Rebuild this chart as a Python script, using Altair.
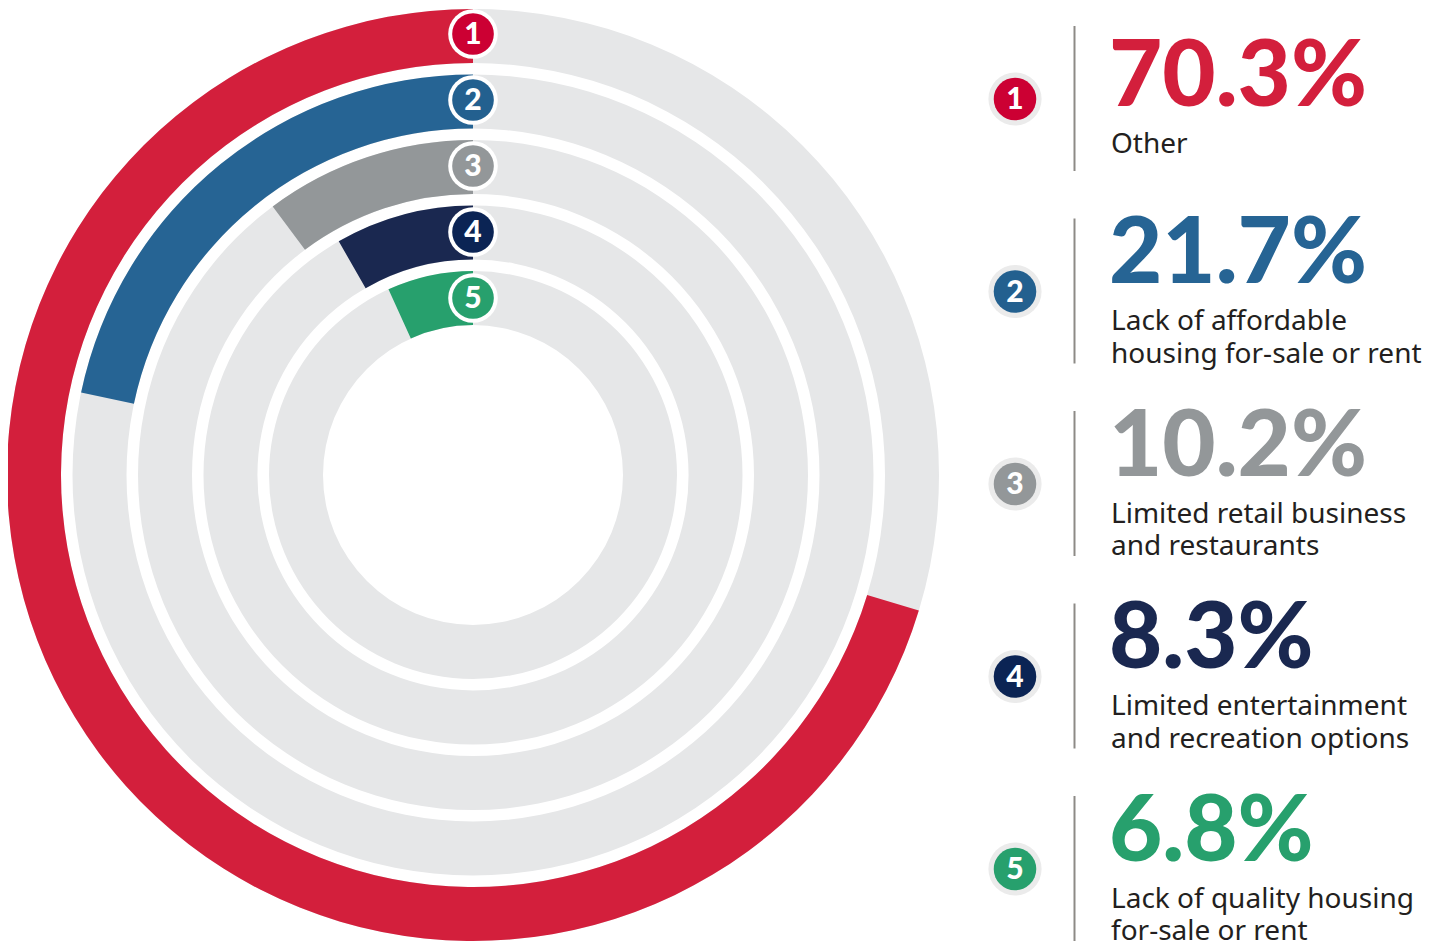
import altair as alt
import pandas as pd

# ---- data ----
ranks = [1, 2, 3, 4, 5]
percents = [70.3, 21.7, 10.2, 8.3, 6.8]
labels = [
    "Other",
    "Lack of affordable\nhousing for-sale or rent",
    "Limited retail business\nand restaurants",
    "Limited entertainment\nand recreation options",
    "Lack of quality housing\nfor-sale or rent",
]

# ---- styles ----
ring_colors = ["#d31f3c", "#266494", "#939799", "#1a2850", "#27a06d"]
badge_colors = ["#cc0033", "#23608f", "#939799", "#0b2454", "#27a06d"]
track_color = "#e6e7e8"
text_color = "#231f20"

df = pd.DataFrame({"rank": ranks, "pct": percents, "label": labels})

CX, CY = 465, 467
base = alt.Chart(df).transform_calculate(
    start="100 - datum.pct",
    end="100",
    rin="datum.rank + 54/65.5",
    pct_s="format(datum.pct, '.1f') + '%'",
    lines="split(datum.label, '\\n')",
    num="'' + datum.rank",
).transform_calculate(
    nl="length(datum.lines)",
).transform_calculate(
    ty="datum.rank + (datum.nl == 1 ? 15.5/192.5 : 0)",
    rt="datum.rank - 73/192.5",
    rb="datum.rank + 72/192.5",
)

r_scale = alt.Scale(type="linear", domain=[1, 5], range=[466, 204], zero=False, nice=False)
t_scale = alt.Scale(domain=[0, 100], range=[0, 6.283185307179586])
ring_y = alt.Scale(domain=[1, 5], range=[26, 290], zero=False, nice=False)
leg_y = alt.Scale(domain=[1, 5], range=[91, 861], zero=False, nice=False)

ring_col = alt.Color("rank:N", scale=alt.Scale(domain=ranks, range=ring_colors), legend=None)
badge_col = alt.Color("rank:N", scale=alt.Scale(domain=ranks, range=badge_colors), legend=None)

tracks = base.mark_arc(theta=0, theta2=6.283185307179586, color=track_color).encode(
    x=alt.value(CX), y=alt.value(CY),
    radius=alt.Radius("rank:Q", scale=r_scale),
    radius2="rin:Q",
)

bars = base.mark_arc().encode(
    x=alt.value(CX), y=alt.value(CY),
    theta=alt.Theta("start:Q", scale=t_scale),
    theta2="end:Q",
    radius=alt.Radius("rank:Q", scale=r_scale),
    radius2="rin:Q",
    color=ring_col,
)

ring_badge_bg = base.mark_circle(color="white", opacity=1, size=2460).encode(
    x=alt.value(CX), y=alt.Y("rank:Q", scale=ring_y, axis=None),
)
ring_badge = base.mark_circle(opacity=1, size=1735).encode(
    x=alt.value(CX), y=alt.Y("rank:Q", scale=ring_y, axis=None),
    color=badge_col,
)
ring_num = base.mark_text(color="white", font="Lato", fontWeight=900, fontSize=30,
                          baseline="middle", align="center", dy=1).encode(
    x=alt.value(CX), y=alt.Y("rank:Q", scale=ring_y, axis=None),
    text="num:N",
)

LX = 1007
leg_halo = base.mark_circle(color="#ebebeb", opacity=1, size=2827).encode(
    x=alt.value(LX), y=alt.Y("rank:Q", scale=leg_y, axis=None),
)
leg_badge = base.mark_circle(opacity=1, size=1810).encode(
    x=alt.value(LX), y=alt.Y("rank:Q", scale=leg_y, axis=None),
    color=badge_col,
)
leg_num = base.mark_text(color="white", font="Lato", fontWeight=900, fontSize=30,
                         baseline="middle", align="center", dy=1).encode(
    x=alt.value(LX), y=alt.Y("rank:Q", scale=leg_y, axis=None),
    text="num:N",
)
leg_rule = base.mark_rule(color="#8d8a86", strokeWidth=2).encode(
    x=alt.value(1066.5),
    y=alt.Y("rt:Q", scale=leg_y, axis=None),
    y2="rb:Q",
)
leg_pct = base.mark_text(font="Lato", fontWeight=900, fontSize=92,
                         baseline="alphabetic", align="left", dy=-8.5).encode(
    x=alt.value(1101), y=alt.Y("ty:Q", scale=leg_y, axis=None),
    text="pct_s:N",
    color=ring_col,
)
leg_lab = base.mark_text(font="Noto Sans", fontSize=28, lineHeight=32.5, color=text_color,
                         baseline="alphabetic", align="left", dy=38.5).encode(
    x=alt.value(1103), y=alt.Y("ty:Q", scale=leg_y, axis=None),
    text="lines:N",
)

chart = alt.layer(
    tracks, bars, ring_badge_bg, ring_badge, ring_num,
    leg_halo, leg_badge, leg_num, leg_rule, leg_pct, leg_lab,
).resolve_scale(
    y="independent", color="independent",
).properties(
    width=1424, height=934, padding=0,
    autosize=alt.AutoSizeParams(type="none"),
    background="white",
).configure_view(stroke=None)

chart.save("out.html", embed_options={"renderer": "svg", "actions": False})
